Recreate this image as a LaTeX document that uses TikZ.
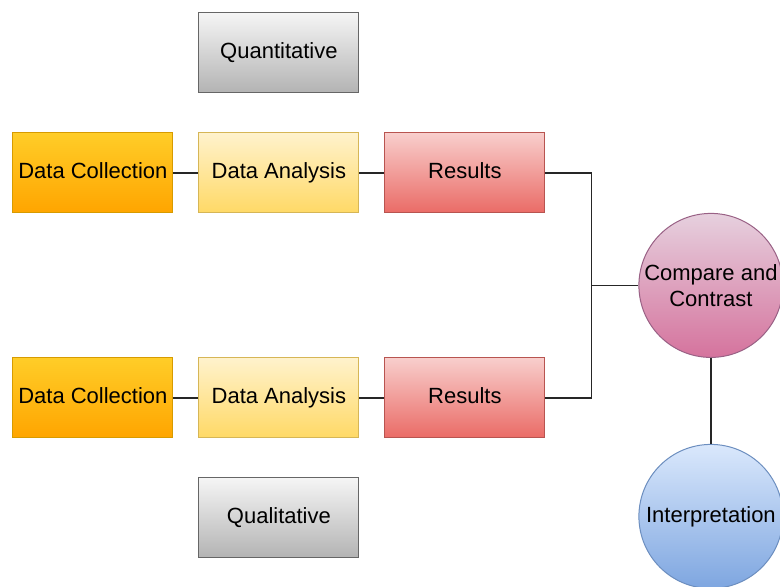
\documentclass[tikz,border=0pt]{standalone}
\usepackage{fontspec}
\setmainfont{Liberation Sans}
\usepackage{tikz}
\usetikzlibrary{positioning,calc}
\definecolor{collecttop}{HTML}{FFCD28}
\definecolor{collectbot}{HTML}{FFA500}
\definecolor{collectline}{HTML}{D79B00}
\definecolor{analysistop}{HTML}{FFF2CC}
\definecolor{analysisbot}{HTML}{FFD966}
\definecolor{analysisline}{HTML}{D6B656}
\definecolor{resultstop}{HTML}{F8CECC}
\definecolor{resultsbot}{HTML}{EA6B66}
\definecolor{resultsline}{HTML}{B85450}
\definecolor{methodtop}{HTML}{F5F5F5}
\definecolor{methodbot}{HTML}{B3B3B3}
\definecolor{methodline}{HTML}{666666}
\definecolor{comparetop}{HTML}{E6D0DE}
\definecolor{comparebot}{HTML}{D5739D}
\definecolor{compareline}{HTML}{996185}
\definecolor{interptop}{HTML}{DAE8FC}
\definecolor{interpbot}{HTML}{7EA6E0}
\definecolor{interpline}{HTML}{6C8EBF}

\begin{document}
\begin{tikzpicture}[
   font=\fontsize{11}{13}\selectfont,
   every matrix/.style={ampersand replacement=\&,column sep=12.5pt,row sep=19.5pt,inner sep=0pt},
   box/.style={draw,line width=0.5pt,minimum width=80pt,minimum height=40pt,inner sep=1pt,text height=8pt,text depth=2.5pt},
   collect/.style={box,draw=collectline,top color=collecttop,bottom color=collectbot},
   analysis/.style={box,draw=analysisline,top color=analysistop,bottom color=analysisbot},
   results/.style={box,draw=resultsline,top color=resultstop,bottom color=resultsbot},
   method/.style={box,draw=methodline,top color=methodtop,bottom color=methodbot},
   round/.style={circle,draw,line width=0.5pt,minimum size=72pt,inner sep=0pt,align=center},
   link/.style={line width=0.6pt,draw=black!85}]
\useasboundingbox (0,0) rectangle (390pt,-293pt);
\matrix[anchor=north west] at (6pt,-6pt) {
\&\node[method] (quant) {Quantitative};\&\\
\node[collect] (collect1) {Data Collection};\&\node[analysis] (analysis1) {Data Analysis};\&\node[results] (results1) {Results};\\[52.5pt]
\node[collect] (collect2) {Data Collection};\&\node[analysis] (analysis2) {Data Analysis};\&\node[results] (results2) {Results};\\
\&\node[method] (qual) {Qualitative};\&\\
};
\coordinate (join) at ($(results1.east)!0.5!(results2.east)+(23pt,0)$);
\node[round,right=23.5pt of join,draw=compareline,top color=comparetop,bottom color=comparebot] (compare) {Compare and\\Contrast};
\node[round,below=43pt of compare,draw=interpline,top color=interptop,bottom color=interpbot] (interp) {Interpretation};
\draw[link] (collect1) -- (analysis1);
\draw[link] (analysis1) -- (results1);
\draw[link] (collect2) -- (analysis2);
\draw[link] (analysis2) -- (results2);
\draw[link] (results1.east) -| (join) |- (results2.east);
\draw[link] (join) -- (compare);
\draw[link] (compare) -- (interp);
\end{tikzpicture}
\end{document}
